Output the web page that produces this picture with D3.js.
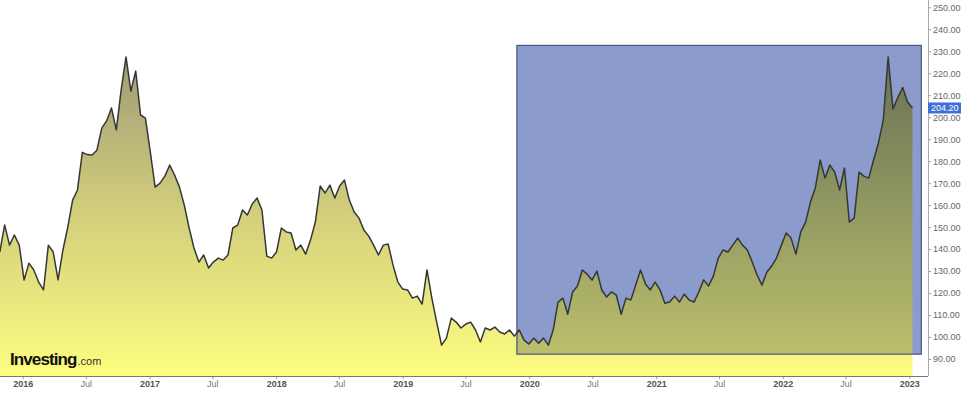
<!DOCTYPE html>
<html>
<head>
<meta charset="utf-8">
<script src="https://cdn.jsdelivr.net/npm/d3@7"></script>
<style>
    body { margin: 0; background: #fff; }
    svg { display: block; }
    text { font-family: "Liberation Sans", Arial, sans-serif; }
</style>
</head>
<body>
<div class="visHolder"></div>
<script>
const startDate = new Date(2015, 9, 27)
const stepDays = 14
const values = [
    138.7, 151, 141.8, 146.4, 141.8, 125.9, 133.6, 130.5, 125, 121.4,
    141.8, 138.7, 126, 139.6, 150, 162.3, 166.9, 184, 183, 182.8,
    185, 195, 198.3, 204.2, 194.2, 212.4, 227.4, 211.9, 221, 201,
    199.6, 184.2, 168.2, 170, 173.2, 178.2, 173.7, 168.2, 160, 149.6,
    140.5, 134.1, 137.3, 131.4, 134.1, 135.9, 135, 137.3, 149.6, 150.9,
    157.8, 155.5, 160.5, 163.2, 157.8, 136.8, 135.9, 138.7, 149.6, 147.8,
    147.3, 139.6, 141.8, 137.7, 144.1, 152.3, 168.7, 165.5, 169.1, 163.2,
    168.7, 171.4, 162.3, 156.9, 154.1, 148.7, 145.9, 141.8, 137.3, 141.8,
    142.3, 132.7, 125, 121.8, 121.4, 117.7, 118.6, 115, 130.5, 117.7,
    106.8, 96.3, 99.5, 108.6, 106.8, 104.1, 105.9, 106.8, 103.2, 97.7,
    104.1, 103.2, 104.5, 102.3, 101.4, 103.2, 100.4, 103.2, 98.6, 96.8,
    99.5, 97.2, 99.5, 96.3, 103.2, 115.9, 117.7, 110.4, 120.5, 123.2,
    130.5, 128.6, 125.9, 130, 121.4, 118.2, 120.5, 119.1, 110.4, 117.7,
    116.8, 123.6, 130.5, 124.1, 121.4, 125, 121.4, 115.4, 115.9, 118.6,
    115.9, 119.5, 116.8, 115.9, 120.5, 126, 123.2, 127.7, 135.9, 139.6,
    138.7, 141.8, 145, 141.8, 139.6, 134.1, 128.2, 123.6, 129.5, 132.3,
    135.9, 141.8, 147.3, 145, 137.7, 147.8, 152.3, 161.4, 167.8, 180.5,
    172.3, 178.2, 175, 166.9, 176.9, 152.3, 154.1, 175, 173.2, 172.3,
    180.5, 188.3, 198.7, 227.4, 203.8, 209, 213.5, 206.9, 204.2
]
const lastValue = 204.20

const yTicks = [90, 100, 110, 120, 130, 140, 150, 160, 170, 180, 190, 200, 210, 220, 230, 240, 250]
const xTickDates = ['2016-01-01', '2016-07-01', '2017-01-01', '2017-07-01', '2018-01-01', '2018-07-01',
    '2019-01-01', '2019-07-01', '2020-01-01', '2020-07-01', '2021-01-01', '2021-07-01',
    '2022-01-01', '2022-07-01', '2023-01-01']
const xTickLabels = ['2016', 'Jul', '2017', 'Jul', '2018', 'Jul', '2019', 'Jul',
    '2020', 'Jul', '2021', 'Jul', '2022', 'Jul', '2023']

// highlighted box
const boxStart = '2019-11-25'
const boxEnd = '2023-02-06'
const boxLow = 92
const boxHigh = 232.9

const width = 966
const height = 396
const plotRight = 928
const plotBottom = 376

const parse = d3.timeParse('%Y-%m-%d')
const dates = values.map((v, i) => d3.timeDay.offset(startDate, i * stepDays))
const data = values.map((v, i) => ({ date: dates[i], value: v }))

const svg = d3.select('.visHolder')
    .append('svg')
    .attr('width', width)
    .attr('height', height)

const xScale = d3.scaleTime()
    .domain([new Date(2016, 0, 1), new Date(2023, 0, 1)])
    .range([22.7, 909.3])

const yScale = d3.scaleLinear()
    .domain([90, 250])
    .range([359, 7.3])

const defs = svg.append('defs')

const outerGrad = defs.append('linearGradient')
    .attr('id', 'outerGrad')
    .attr('gradientUnits', 'userSpaceOnUse')
    .attr('x1', 0).attr('x2', 0)
    .attr('y1', yScale(228)).attr('y2', plotBottom)
outerGrad.append('stop').attr('offset', 0).attr('stop-color', '#9e9b78')
outerGrad.append('stop').attr('offset', 0.5).attr('stop-color', '#d3cf7c')
outerGrad.append('stop').attr('offset', 1).attr('stop-color', '#fdfd80')

const innerGrad = defs.append('linearGradient')
    .attr('id', 'innerGrad')
    .attr('gradientUnits', 'userSpaceOnUse')
    .attr('x1', 0).attr('x2', 0)
    .attr('y1', yScale(228)).attr('y2', yScale(boxLow))
innerGrad.append('stop').attr('offset', 0).attr('stop-color', '#677055')
innerGrad.append('stop').attr('offset', 1).attr('stop-color', '#bbbf6c')

const boxX = xScale(parse(boxStart))
const boxY = yScale(boxHigh)
const boxW = xScale(parse(boxEnd)) - boxX
const boxH = yScale(boxLow) - boxY

defs.append('clipPath')
    .attr('id', 'boxClip')
    .append('rect')
    .attr('x', boxX).attr('y', boxY)
    .attr('width', boxW).attr('height', boxH)

const area = d3.area()
    .x(d => xScale(d.date))
    .y0(plotBottom)
    .y1(d => yScale(d.value))

const line = d3.line()
    .x(d => xScale(d.date))
    .y(d => yScale(d.value))

svg.append('path')
    .datum(data)
    .attr('d', area)
    .attr('fill', 'url(#outerGrad)')

svg.append('rect')
    .attr('x', boxX).attr('y', boxY)
    .attr('width', boxW).attr('height', boxH)
    .attr('fill', '#8a9bcc')

svg.append('path')
    .datum(data)
    .attr('d', area)
    .attr('clip-path', 'url(#boxClip)')
    .attr('fill', 'url(#innerGrad)')

svg.append('rect')
    .attr('x', boxX + 0.5).attr('y', boxY + 0.5)
    .attr('width', boxW - 1).attr('height', boxH - 1)
    .attr('fill', 'none')
    .attr('stroke', '#3d4c78')
    .attr('stroke-width', 1)

svg.append('path')
    .datum(data)
    .attr('d', line)
    .attr('fill', 'none')
    .attr('stroke', '#363636')
    .attr('stroke-width', 1.5)
    .attr('stroke-linejoin', 'round')

// axes
const yAxis = d3.axisRight(yScale)
    .tickValues(yTicks)
    .tickFormat(d3.format('.2f'))
    .tickSize(3)
    .tickPadding(2)

const yG = svg.append('g')
    .attr('transform', `translate(${plotRight}, 0)`)
    .call(yAxis)
yG.select('.domain').remove()
yG.selectAll('line').attr('stroke', '#999')
yG.selectAll('text').attr('fill', '#666').style('font-size', '9px')

const xAxis = d3.axisBottom(xScale)
    .tickValues(xTickDates.map(parse))
    .tickFormat((d, i) => xTickLabels[i])
    .tickSize(3)
    .tickPadding(2)

const xG = svg.append('g')
    .attr('transform', `translate(0, ${plotBottom})`)
    .call(xAxis)
xG.select('.domain').remove()
xG.selectAll('line').attr('stroke', '#999')
xG.selectAll('text')
    .attr('fill', (d, i) => xTickLabels[i] === 'Jul' ? '#777' : '#555')
    .style('font-size', '9px')
    .style('font-weight', (d, i) => xTickLabels[i] === 'Jul' ? 'normal' : 'bold')

svg.append('line')
    .attr('x1', plotRight + 0.5).attr('x2', plotRight + 0.5)
    .attr('y1', 0).attr('y2', plotBottom)
    .attr('stroke', '#aaa')

svg.append('line')
    .attr('x1', 0).attr('x2', plotRight)
    .attr('y1', plotBottom + 0.5).attr('y2', plotBottom + 0.5)
    .attr('stroke', '#777')

// last price label
const lastY = yScale(lastValue)
svg.append('rect')
    .attr('x', plotRight).attr('y', lastY - 5.5)
    .attr('width', 33).attr('height', 11)
    .attr('fill', '#3f6fd9')
svg.append('text')
    .attr('x', plotRight + 3).attr('y', lastY)
    .attr('dy', '0.34em')
    .attr('fill', '#fff')
    .style('font-size', '9px')
    .text(d3.format('.2f')(lastValue))

// logo
const logo = svg.append('text')
    .attr('x', 10).attr('y', 365)
logo.append('tspan')
    .style('font-size', '17px')
    .style('font-weight', 'bold')
    .style('letter-spacing', '-0.9px')
    .attr('fill', '#111')
    .text('Investing')
logo.append('tspan')
    .attr('dx', 1)
    .style('font-size', '11px')
    .attr('fill', '#333')
    .text('.com')
</script>
</body>
</html>
